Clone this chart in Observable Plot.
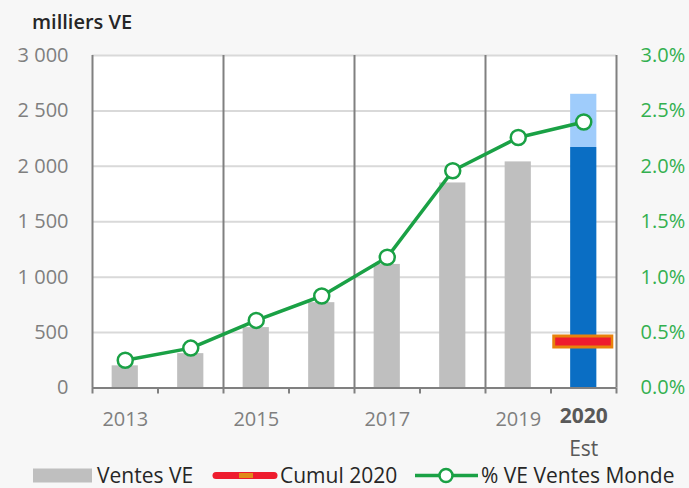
<!DOCTYPE html>
<html>
<head>
<meta charset="utf-8">
<script src="https://cdn.jsdelivr.net/npm/d3@7"></script>
<script src="https://cdn.jsdelivr.net/npm/@observablehq/plot@0.6"></script>
<style>
  body { margin: 0; background: #f7f7f7; }
  #chart { position: relative; width: 689px; height: 488px; background: #f7f7f7; overflow: hidden; font-family: "Open Sans", "Noto Sans", sans-serif; }
  #title { position: absolute; left: 32px; top: 8px; font-size: 20px; font-weight: 600; color: #262626; }
  #plot { position: absolute; left: 0; top: 0; }
  #legend { position: absolute; left: 0; top: 458px; }
</style>
</head>
<body>
<div id="chart">
  <div id="plot"></div>
  <div id="title">milliers VE</div>
  <svg id="legend" width="689" height="30"></svg>
</div>
<script>
// ---- data ----
const years = [2013, 2014, 2015, 2016, 2017, 2018, 2019, 2020];
const ventesVE = [200, 310, 545, 770, 1115, 1850, 2040];       // milliers VE, 2013-2019
const ventes2020Cumul = 2170;                                  // 2020 réalisé (bleu foncé)
const ventes2020Est = 2650;                                    // 2020 estimation (bleu clair)
const cumul2020 = 420;                                         // Cumul 2020 marker
const pctVEMonde = [0.25, 0.36, 0.61, 0.83, 1.18, 1.96, 2.26, 2.40]; // % VE ventes monde
const yTicks = [0, 500, 1000, 1500, 2000, 2500, 3000];
const xTickLabels = ["2013", "2015", "2017", "2019"];
const estLabel = ["2020", "Est"];

// ---- build tables ----
const bars = ventesVE.map((v, i) => ({year: years[i], value: v}));
const est = [{year: 2020, lo: 0, mid: ventes2020Cumul, hi: ventes2020Est}];
const pct = pctVEMonde.map((p, i) => ({year: years[i], pct: p}));
const xDomain = [years[0] - 0.5, years[years.length - 1] + 0.5];
const boundaries = d3.range(xDomain[0], xDomain[1] + 0.01, 1);
const separators = boundaries.filter((b, i) => i > 0 && i < boundaries.length - 1 && i % 2 === 0);
const pctToY = p => p * 1000; // 3.0% ↔ 3000
const fmtLeft = d => d3.format(",")(d).replace(/,/g, " ");
const fmtRight = d => (d / 1000).toFixed(1) + "%";

const green = "#1aa145";
const axisGray = "#808080";
const halfBar = 0.2;

const chart = Plot.plot({
  width: 689,
  height: 488,
  marginLeft: 92,
  marginRight: 73,
  marginTop: 55,
  marginBottom: 100.5,
  style: {background: "transparent", fontFamily: "'Open Sans', 'Noto Sans', sans-serif", fontSize: "20px", overflow: "visible"},
  x: {type: "linear", domain: xDomain, axis: null},
  y: {domain: [0, 3000], axis: null},
  marks: [
    Plot.frame({fill: "white", stroke: null}),
    Plot.ruleY(yTicks.filter(d => d > 0), {stroke: "#d9d9d9", strokeWidth: 2}),
    Plot.rectY(bars, {x1: d => d.year - halfBar, x2: d => d.year + halfBar, y1: 0, y2: "value", fill: "#bfbfbf"}),
    Plot.rectY(est, {x1: d => d.year - halfBar, x2: d => d.year + halfBar, y1: "lo", y2: "mid", fill: "#0a6ec4"}),
    Plot.rectY(est, {x1: d => d.year - halfBar, x2: d => d.year + halfBar, y1: "mid", y2: "hi", fill: "#9fccfb"}),
    Plot.ruleX(separators, {stroke: axisGray, strokeWidth: 2}),
    Plot.ruleX([xDomain[0], xDomain[1]], {stroke: axisGray, strokeWidth: 2}),
    Plot.ruleY([0], {stroke: axisGray, strokeWidth: 2}),
    Plot.axisX(boundaries, {tickSize: 6, tickFormat: () => "", label: null, color: axisGray, strokeWidth: 2}),
    Plot.ruleY([cumul2020], {x1: 2019.527, x2: 2020.459, stroke: "#e8820c", strokeWidth: 14}),
    Plot.ruleY([cumul2020], {x1: 2019.572, x2: 2020.42, stroke: "#ee1c2e", strokeWidth: 8}),
    Plot.line(pct, {x: "year", y: d => pctToY(d.pct), stroke: green, strokeWidth: 3.5}),
    Plot.dot(pct, {x: "year", y: d => pctToY(d.pct), r: 7.5, fill: "white", stroke: green, strokeWidth: 2.5}),
    Plot.axisY(yTicks, {anchor: "left", tickSize: 0, tickPadding: 24, tickFormat: fmtLeft, label: null, color: "#7f7f7f", fontSize: 20}),
    Plot.axisY(yTicks, {anchor: "right", tickSize: 0, tickPadding: 24, tickFormat: fmtRight, label: null, color: "#33b04f", fontSize: 20}),
    Plot.text(xTickLabels, {x: d => +d, y: 0, dy: 32, fill: "#7f7f7f", fontSize: 20}),
    Plot.text([estLabel[0]], {x: d => +d, y: 0, dy: 28, fill: "#595959", fontSize: 21, fontWeight: "bold"}),
    Plot.text([estLabel[1]], {x: () => 2020, y: 0, dy: 61, fill: "#595959", fontSize: 21})
  ]
});
document.getElementById("plot").appendChild(chart);

// ---- legend ----
const legendItems = [
  {label: "Ventes VE", type: "bar", x: 33, tx: 97},
  {label: "Cumul 2020", type: "cumul", x: 213, tx: 280},
  {label: "% VE Ventes Monde", type: "line", x: 415, tx: 481}
];
const lg = d3.select("#legend");
const cy = 17.5;
legendItems.forEach(it => {
  if (it.type === "bar") {
    lg.append("rect").attr("x", it.x).attr("y", cy - 7).attr("width", 59).attr("height", 14).attr("fill", "#bfbfbf");
  } else if (it.type === "cumul") {
    lg.append("line").attr("x1", it.x + 3).attr("x2", it.x + 61).attr("y1", cy).attr("y2", cy)
      .attr("stroke", "#ee1c2e").attr("stroke-width", 7).attr("stroke-linecap", "round");
    lg.append("rect").attr("x", it.x + 26).attr("y", cy - 2.5).attr("width", 14).attr("height", 5).attr("fill", "#e08a1a");
  } else {
    lg.append("line").attr("x1", it.x).attr("x2", it.x + 63).attr("y1", cy).attr("y2", cy)
      .attr("stroke", green).attr("stroke-width", 3.5);
    lg.append("circle").attr("cx", it.x + 31).attr("cy", cy).attr("r", 6.5)
      .attr("fill", "white").attr("stroke", green).attr("stroke-width", 2.5);
  }
  lg.append("text").attr("x", it.tx).attr("y", cy).attr("dy", "0.35em")
    .attr("font-family", "'Open Sans', 'Noto Sans', sans-serif").attr("font-size", 21)
    .attr("fill", "#262626").text(it.label);
});
</script>
</body>
</html>
